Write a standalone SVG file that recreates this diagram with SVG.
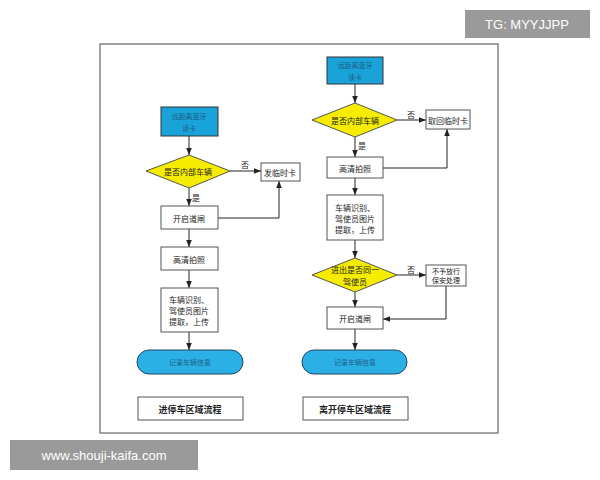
<svg xmlns="http://www.w3.org/2000/svg" width="600" height="480" viewBox="0 0 600 480">
<style>
text{font-family:"Noto Sans CJK SC","Liberation Sans",sans-serif;font-size:8px;fill:#222;text-anchor:middle;dominant-baseline:central}
.box{fill:#fff;stroke:#555;stroke-width:1}
.blue{fill:#1aa3d9;stroke:#333;stroke-width:1}
.dia{fill:#f5ec00;stroke:#555;stroke-width:1}
.pill{fill:#2bb0e6;stroke:#246;stroke-width:1}
.ln{fill:none;stroke:#222;stroke-width:1;marker-end:url(#a)}
.lt{fill:#1d5e86;font-size:7px}
.b{font-weight:bold;font-size:9px}
.s{font-size:7px}
</style>
<defs><marker id="a" viewBox="0 0 10 10" refX="10" refY="5" markerWidth="7" markerHeight="7" orient="auto"><path d="M0,1L10,5L0,9z" fill="#222"/></marker></defs>
<rect width="600" height="480" fill="#fff"/>
<rect x="100" y="44" width="398" height="389" fill="#fff" stroke="#666" stroke-width="1.2"/>
<g id="connectors">
<path class="ln" d="M189,136V155"/>
<path class="ln" d="M230,171H261"/>
<path class="ln" d="M189,188V206"/>
<path class="ln" d="M218,218H279V181"/>
<path class="ln" d="M189,229V247"/>
<path class="ln" d="M189,270V288"/>
<path class="ln" d="M189,332V350"/>
<path class="ln" d="M355,84V103"/>
<path class="ln" d="M397,120H426"/>
<path class="ln" d="M355,137V157"/>
<path class="ln" d="M383,168H447V129"/>
<path class="ln" d="M355,178V195"/>
<path class="ln" d="M355,240V258"/>
<path class="ln" d="M397,275H426"/>
<path class="ln" d="M355,292V307"/>
<path class="ln" d="M446,285V319H383"/>
<path class="ln" d="M355,329V350"/>
<text x="245" y="164">否</text><text x="196" y="197">是</text>
<text x="411" y="114">否</text><text x="362" y="145">是</text>
<text x="411" y="269">否</text>
</g>
<g id="l1"><rect class="blue" x="161" y="107" width="57" height="29"/><text class="lt" x="189" y="116">远距离蓝牙</text><text class="lt" x="189" y="128">读卡</text></g>
<g id="l2"><path class="dia" d="M146,171L189,155L230,171L189,188z"/><text x="188" y="171">是否内部车辆</text></g>
<g id="l3"><rect class="box" x="261" y="163" width="39" height="18"/><text x="280" y="172">发临时卡</text></g>
<g id="l4"><rect class="box" x="161" y="206" width="57" height="23"/><text x="189" y="218">开启道闸</text></g>
<g id="l5"><rect class="box" x="161" y="247" width="57" height="23"/><text x="189" y="259">高清拍照</text></g>
<g id="l6"><rect class="box" x="161" y="288" width="57" height="44"/><text x="189" y="299">车辆识别、</text><text x="189" y="310">驾使员图片</text><text x="189" y="321">提取，上传</text></g>
<g id="l7"><rect class="pill" x="137" y="350" width="106" height="24" rx="12"/><text class="lt" x="190" y="362">记录车辆信息</text></g>
<g id="l8"><rect class="box" x="138" y="397" width="105" height="23"/><text class="b" x="190" y="409">进停车区域流程</text></g>
<g id="r1"><rect class="blue" x="327" y="57" width="56" height="27"/><text class="lt" x="355" y="65">远距离蓝牙</text><text class="lt" x="355" y="77">读卡</text></g>
<g id="r2"><path class="dia" d="M312,120L355,103L397,120L355,137z"/><text x="355" y="120">是否内部车辆</text></g>
<g id="r3"><rect class="box" x="426" y="110" width="44" height="19"/><text x="448" y="120">取回临时卡</text></g>
<g id="r4"><rect class="box" x="327" y="157" width="56" height="21"/><text x="355" y="168">高清拍照</text></g>
<g id="r5"><rect class="box" x="327" y="195" width="56" height="45"/><text x="355" y="207">车辆识别、</text><text x="355" y="218">驾使员图片</text><text x="355" y="229">提取，上传</text></g>
<g id="r6"><path class="dia" d="M312,275L355,258L397,275L355,292z"/><text x="355" y="269">进出是否同一</text><text x="355" y="281">驾使员</text></g>
<g id="r7"><rect class="box" x="426" y="265" width="40" height="21"/><text class="s" x="446" y="271">不予放行</text><text class="s" x="446" y="280">保安处理</text></g>
<g id="r8"><rect class="box" x="327" y="307" width="56" height="22"/><text x="355" y="318">开启道闸</text></g>
<g id="r9"><rect class="pill" x="302" y="350" width="105" height="24" rx="12"/><text class="lt" x="355" y="362">记录车辆信息</text></g>
<g id="r10"><rect class="box" x="303" y="397" width="105" height="23"/><text class="b" x="355" y="409">离开停车区域流程</text></g>
<rect x="465" y="10" width="125" height="28" fill="#9a9a9a"/><text x="527" y="24" style="fill:#fff;font-size:13px;font-family:'Liberation Sans',sans-serif">TG: MYYJJPP</text>
<rect x="10" y="440" width="188" height="30" fill="#9a9a9a"/><text x="104" y="455" style="fill:#fff;font-size:13px;font-family:'Liberation Sans',sans-serif">www.shouji-kaifa.com</text>
</svg>
